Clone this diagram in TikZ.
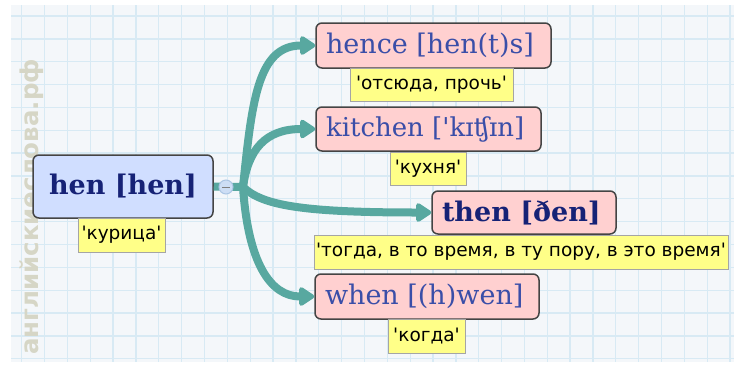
\documentclass[tikz,border=0pt]{standalone}
\usepackage{fontspec}
\setmainfont{DejaVu Serif}
\newfontfamily\headfont{DejaVu Serif}
\newfontfamily\labfont{DejaVu Sans}[Ligatures=TeXOff]
\newfontfamily\wmfont{DejaVu Sans}
\usetikzlibrary{arrows.meta}
\definecolor{bgc}{RGB}{244,247,250}
\definecolor{gridc}{RGB}{216,234,244}
\definecolor{wmc}{RGB}{214,214,198}
\definecolor{tealc}{RGB}{88,168,160}
\definecolor{pinkf}{RGB}{255,208,208}
\definecolor{bluef}{RGB}{208,222,255}
\definecolor{yelf}{RGB}{255,255,136}
\definecolor{hentext}{RGB}{22,34,118}
\definecolor{headtext}{RGB}{58,78,168}
\definecolor{boxline}{RGB}{68,68,68}
\definecolor{labline}{RGB}{165,165,165}
\definecolor{colf}{RGB}{205,222,245}
\definecolor{coll}{RGB}{172,198,228}
\newcommand{\lbox}[2]{\makebox[#1][l]{#2}}
\tikzset{
  headbox/.style={draw=boxline, line width=1.5pt, rounded corners=6pt, fill=pinkf,
    text=headtext, inner ysep=0pt, inner xsep=10pt,
    font=\headfont\fontsize{27}{31}\selectfont},
  boldhead/.style={headbox, font=\headfont\bfseries\fontsize{27}{31}\selectfont, text=hentext},
  labbox/.style={draw=labline, line width=1pt, fill=yelf, text=black, inner sep=0pt,
    font=\labfont\fontsize{18.5}{21}\selectfont},
  conn/.style={draw=tealc, line width=8pt, line cap=round,
    -{Triangle[length=17pt,width=21pt,round=false]}},
}
\begin{document}
\begin{tikzpicture}[x=1pt,y=-1pt]
\useasboundingbox (0,0) rectangle (734,365);
\fill[white] (0,0) rectangle (734,365);
\fill[bgc] (11,5) rectangle (734,362);
\foreach \i in {0,...,31} \draw[gridc, line width=1.3pt] ({21.7+22.85*\i},5) -- ({21.7+22.85*\i},362);
\foreach \j in {0,...,15} \draw[gridc, line width=1.3pt] (11,{16+22.85*\j}) -- (734,{16+22.85*\j});
% watermark
\node[rotate=90, text=wmc, inner sep=0pt, font=\wmfont\bfseries\fontsize{24.5}{25}\selectfont] (wm) at (32,207) {английскиеслова.рф};
% nodes
\node[boldhead, fill=bluef, inner xsep=0pt, minimum width=180pt, minimum height=63pt] (hen) at (123,186.5) {hen [hen]};
\node[labbox, minimum width=87pt, minimum height=34pt] (henl) at (121.5,235) {'курица'};
\node[headbox, minimum height=45pt] (hence) at (433.5,45.5) {\lbox{215pt}{hence [hen(t)s]}};
\node[labbox, minimum width=163pt, minimum height=33pt] (hencel) at (431.5,84.5) {'отсюда, прочь'};
\node[headbox, minimum height=44pt, font=\headfont\fontsize{26}{31}\selectfont] (kitchen) at (428.5,129) {\lbox{205pt}{kitchen ['kɪʧɪn]}};
\node[labbox, minimum width=76pt, minimum height=33pt] (kitchenl) at (428,168.5) {'кухня'};
\node[boldhead, minimum height=43pt] (then) at (524,212.5) {\lbox{164pt}{then [ðen]}};
\node[labbox, minimum width=414pt, minimum height=34pt] (thenl) at (521,252) {'тогда, в то время, в ту пору, в это время'};
\node[headbox, minimum height=45pt] (when) at (427,296.5) {\lbox{204pt}{when [(h)wen]}};
\node[labbox, minimum width=77pt, minimum height=34pt] (whenl) at (426.5,336) {'когда'};
% connectors
\coordinate (hub) at (243,187);
\draw[tealc, line width=8pt] (hen.east) -- (hub);
\draw[conn] (hub) .. controls (252,100) and (258,45.5) .. (hence.west);
\draw[conn] (hub) .. controls (248,150) and (265,129) .. (kitchen.west);
\draw[conn] (hub) .. controls (262,205) and (300,212.5) .. (then.west);
\draw[conn] (hub) .. controls (248,262) and (270,296.5) .. (when.west);
\node[circle, draw=coll, line width=1pt, fill=colf, minimum size=14pt, inner sep=0pt] (col) at (226,187) {};
\draw[gray, line width=1pt] ([xshift=3.5pt]col.west) -- ([xshift=-3.5pt]col.east);
\end{tikzpicture}
\end{document}
